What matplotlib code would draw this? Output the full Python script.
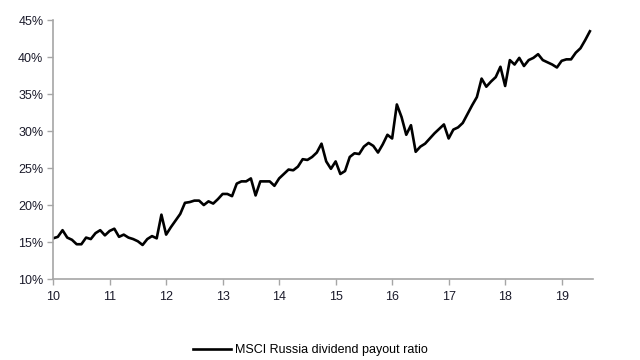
import numpy as np
import matplotlib
matplotlib.use("Agg")
import matplotlib.pyplot as plt
from matplotlib.ticker import FuncFormatter

# monthly, Jan 2010 .. Jul 2019 (x axis in years since 2000)
payout = [
    15.5, 15.7, 16.6, 15.6, 15.3, 14.7, 14.7, 15.6, 15.4, 16.2, 16.6, 15.9,
    16.5, 16.8, 15.7, 16.0, 15.6, 15.4, 15.1, 14.6, 15.4, 15.8, 15.5, 18.7,
    16.0, 17.0, 17.9, 18.8, 20.3, 20.4, 20.6, 20.6, 20.0, 20.5, 20.2, 20.8,
    21.5, 21.5, 21.2, 22.9, 23.2, 23.2, 23.6, 21.3, 23.2, 23.2, 23.2, 22.6,
    23.6, 24.2, 24.8, 24.7, 25.2, 26.2, 26.1, 26.5, 27.1, 28.3, 25.9, 24.9,
    25.9, 24.2, 24.6, 26.5, 27.0, 26.9, 27.9, 28.4, 28.0, 27.1, 28.2, 29.5,
    29.0, 33.6, 31.9, 29.5, 30.8, 27.2, 27.9, 28.3, 29.0, 29.7, 30.3, 30.9,
    29.0, 30.2, 30.5, 31.1, 32.3, 33.5, 34.6, 37.1, 36.0, 36.7, 37.3, 38.7,
    36.1, 39.6, 39.0, 39.9, 38.8, 39.6, 39.9, 40.4, 39.6, 39.3, 39.0, 38.6,
    39.5, 39.7, 39.7, 40.6, 41.2, 42.3, 43.5,
]
years = 10 + np.arange(len(payout)) / 12
x_ticks = list(range(10, 20))
y_ticks = list(range(10, 50, 5))

plt.rcParams["font.family"] = ["Liberation Sans", "DejaVu Sans"]

fig = plt.figure(figsize=(6.4, 3.6), dpi=100)
ax = fig.add_axes([0.083, 0.225, 0.844, 0.719])

ax.plot(years, payout, color="black", lw=1.9, label="MSCI Russia dividend payout ratio")

ax.set_xlim(10, 19.56)
ax.set_ylim(10, 45)
ax.set_xticks(x_ticks)
ax.set_yticks(y_ticks)
ax.yaxis.set_major_formatter(FuncFormatter(lambda v, p: f"{v:.0f}%"))

for side in ["top", "right"]:
    ax.spines[side].set_visible(False)
for side in ["left", "bottom"]:
    ax.spines[side].set_color("#a6a6a6")
    ax.spines[side].set_linewidth(1.2)
ax.tick_params(axis="both", direction="out", length=4, width=1, color="#a6a6a6",
               labelsize=9, labelcolor="#1a1a2a")
ax.tick_params(axis="x", pad=5)
ax.tick_params(axis="y", pad=3)

fig.legend(loc="lower center", bbox_to_anchor=(0.485, -0.02), frameon=False,
           fontsize=9, handlelength=3.0, handletextpad=0.3)

fig.savefig("out.png", dpi=100)
